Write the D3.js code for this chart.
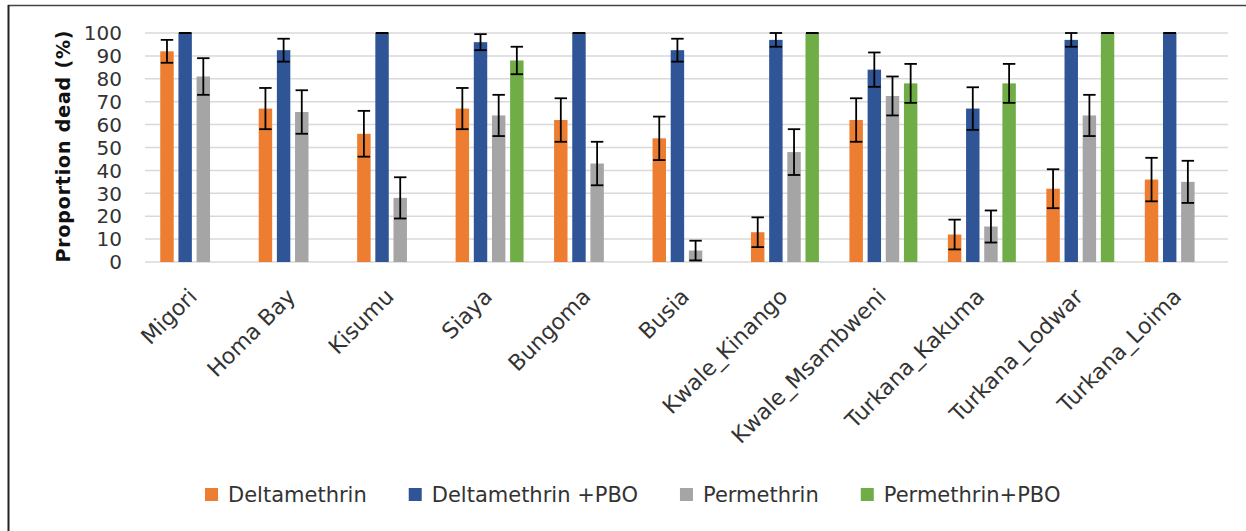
<!DOCTYPE html>
<html>
<head>
<meta charset="utf-8">
<script src="https://cdn.jsdelivr.net/npm/d3@7"></script>
<style>
  body { margin: 0; background: #fff; }
  svg { display: block; }
  text { font-family: "DejaVu Sans", Verdana, sans-serif; fill: #333; }
</style>
</head>
<body>
<svg id="svg" width="1246" height="531"></svg>
<script>
// data
const categories = ['Migori', 'Homa Bay', 'Kisumu', 'Siaya', 'Bungoma', 'Busia',
  'Kwale_Kinango', 'Kwale_Msambweni', 'Turkana_Kakuma', 'Turkana_Lodwar', 'Turkana_Loima'];
const seriesNames = ['Deltamethrin', 'Deltamethrin +PBO', 'Permethrin', 'Permethrin+PBO'];
const seriesColors = ['#ED7D31', '#2F5597', '#A5A5A5', '#70AD47'];

const deltamethrin    = [92, 67, 56, 67, 62, 54, 13, 62, 12, 32, 36];
const deltamethrinErr = [5, 9, 10, 9, 9.5, 9.5, 6.5, 9.5, 6.5, 8.5, 9.5];
const deltaPBO        = [100, 92.5, 100, 96, 100, 92.5, 97, 84, 67, 97, 100];
const deltaPBOErr     = [0, 5, 0, 3.5, 0, 5, 3, 7.5, 9.3, 3, 0];
const permethrin      = [81, 65.5, 28, 64, 43, 5, 48, 72.5, 15.5, 64, 35];
const permethrinErr   = [8, 9.5, 9, 9, 9.5, 4.3, 10, 8.5, 7, 9, 9.2];
const permPBO         = [null, null, null, 88, null, null, 100, 78, 78, 100, null];
const permPBOErr      = [null, null, null, 6, null, null, 0, 8.5, 8.5, 0, null];

const yTicks = [0, 10, 20, 30, 40, 50, 60, 70, 80, 90, 100];

const values = [deltamethrin, deltaPBO, permethrin, permPBO];
const errors = [deltamethrinErr, deltaPBOErr, permethrinErr, permPBOErr];

// layout
const plot = {left: 145, right: 1228, top: 33, bottom: 262};
const svg = d3.select('#svg');

// frame (top + left edge of the chart area box)
svg.append('line').attr('x1', 8).attr('x2', 1246).attr('y1', 5.5).attr('y2', 5.5)
  .attr('stroke', '#444').attr('stroke-width', 1.5);
svg.append('line').attr('x1', 8.5).attr('x2', 8.5).attr('y1', 5).attr('y2', 531)
  .attr('stroke', '#222').attr('stroke-width', 2);

const x0 = d3.scaleBand().domain(categories).range([plot.left, plot.right]);
const x1 = d3.scaleBand().domain(seriesNames)
  .range([0, x0.bandwidth() * 0.69]).paddingInner(0.26);
const clusterOffset = (x0.bandwidth() - x0.bandwidth() * 0.69) / 2;
const y = d3.scaleLinear().domain([0, 100]).range([plot.bottom, plot.top]);

// gridlines
svg.append('g').selectAll('line').data(yTicks).join('line')
  .attr('x1', plot.left).attr('x2', plot.right)
  .attr('y1', d => y(d)).attr('y2', d => y(d))
  .attr('stroke', '#d9d9d9').attr('stroke-width', 1.5);

// y tick labels
svg.append('g').selectAll('text').data(yTicks).join('text')
  .attr('x', 122).attr('y', d => y(d)).attr('dy', '0.36em')
  .attr('text-anchor', 'end').style('font-size', '20px')
  .text(d => d);

// y title
svg.append('text')
  .attr('transform', `translate(70,${(plot.top + plot.bottom) / 2 - 1}) rotate(-90)`)
  .attr('text-anchor', 'middle')
  .attr('textLength', 232).attr('lengthAdjust', 'spacing')
  .style('font-size', '19px').style('font-weight', 'bold').style('fill', '#111')
  .text('Proportion dead  (%)');

// bars
const rows = [];
categories.forEach((c, i) => {
  seriesNames.forEach((s, j) => {
    if (values[j][i] != null) rows.push({cat: c, s: s, j: j, v: values[j][i], e: errors[j][i]});
  });
});

const bx = d => x0(d.cat) + clusterOffset + x1(d.s);

svg.append('g').selectAll('rect').data(rows).join('rect')
  .attr('x', bx).attr('width', x1.bandwidth())
  .attr('y', d => y(d.v)).attr('height', d => y(0) - y(d.v))
  .attr('fill', d => seriesColors[d.j]);

// error bars
const eb = svg.append('g').attr('stroke', '#000').attr('stroke-width', 1.8);
const capHalf = x1.bandwidth() / 2 - 0.5;
rows.forEach(d => {
  const cx = bx(d) + x1.bandwidth() / 2;
  const hi = Math.min(100, d.v + d.e), lo = Math.max(0, d.v - d.e);
  if (d.e > 0) {
    eb.append('line').attr('x1', cx).attr('x2', cx).attr('y1', y(hi)).attr('y2', y(lo));
  }
  eb.append('line').attr('x1', cx - capHalf).attr('x2', cx + capHalf).attr('y1', y(hi)).attr('y2', y(hi));
  if (lo > 0) {
    eb.append('line').attr('x1', cx - capHalf).attr('x2', cx + capHalf).attr('y1', y(lo)).attr('y2', y(lo));
  }
});

// category labels, rotated
svg.append('g').selectAll('text').data(categories).join('text')
  .attr('transform', d => `translate(${x0(d) + x0.bandwidth() / 2 + 4},${plot.bottom + 36}) rotate(-45)`)
  .attr('text-anchor', 'end')
  .style('font-size', '22px')
  .text(d => d);

// legend
const leg = svg.append('g');
let lx = 205;
seriesNames.forEach((s, j) => {
  leg.append('rect').attr('x', lx).attr('y', 488).attr('width', 13).attr('height', 13)
    .attr('fill', seriesColors[j]);
  const t = leg.append('text').attr('x', lx + 23).attr('y', 502)
    .style('font-size', '21px').text(s);
  lx += 23 + t.node().getComputedTextLength() + 42;
});
</script>
</body>
</html>
